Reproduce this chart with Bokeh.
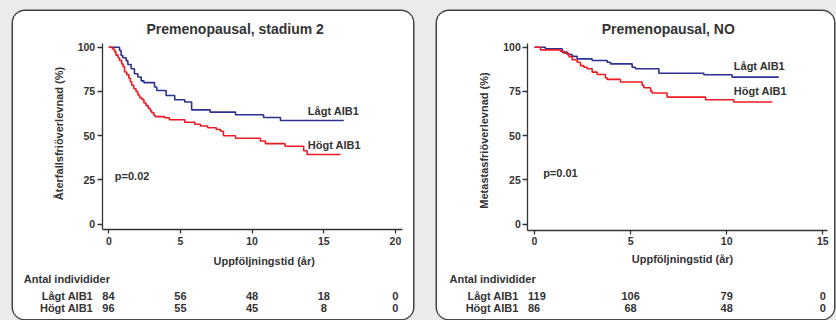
import math
from bokeh.plotting import figure
from bokeh.models import (FixedTicker, Range1d, GlobalInlineStyleSheet, Spacer,
                          ColumnDataSource)
from bokeh.layouts import row, column
from bokeh.core.properties import value
from bokeh.embed import file_html
from bokeh.resources import INLINE

# ---------------- data ----------------
title_left = "Premenopausal, stadium 2"
ylabel_left = "Återfallsfriöverlevnad (%)"
title_right = "Premenopausal, NO"
ylabel_right = "Metastasfriöverlevnad (%)"
xlabel = "Uppföljningstid (år)"
group_names = ["Lågt AIB1", "Högt AIB1"]
risk_title = "Antal individider"
p_left = "p=0.02"
p_right = "p=0.01"

y_ticks = [0, 25, 50, 75, 100]
x_ticks_left = [0, 5, 10, 15, 20]
x_ticks_right = [0, 5, 10, 15]

# Left panel: recurrence-free survival, Lågt AIB1
left_low_t = [0, 0.75, 0.86, 0.98, 1.21, 1.33, 1.56, 1.79, 2.03, 2.26, 2.45,
              3.19, 3.35, 4.0, 4.6, 5.3, 5.78, 7.07, 8.84, 10.8, 11.98, 16.4]
left_low_s = [100, 98.1, 95.3, 94.0, 92.4, 90.2, 87.8, 85.0, 83.2, 81.0, 80.0,
              77.5, 75.5, 72.7, 70.3, 69.0, 64.6, 63.3, 61.8, 60.3, 58.6, 58.6]
# Left panel: Högt AIB1
left_high_t = [0, 0.25, 0.4, 0.5, 0.65, 0.75, 0.9, 1.0, 1.1, 1.25,
               1.4, 1.5, 1.6, 1.75, 1.9, 2.03, 2.15, 2.3, 2.45, 2.6,
               2.75, 2.9, 3.0, 3.15, 3.25, 3.89, 4.23, 5.3, 6.0, 6.4,
               6.9, 7.5, 7.8, 8.0, 8.84, 10.58, 10.93, 12.3, 13.6, 13.84,
               16.17]
left_high_s = [100, 99.0, 97.5, 95.5, 94.0, 92.5, 90.5, 89.0, 86.0, 84.5,
               82.5, 80.5, 78.5, 76.5, 75.0, 73.0, 71.5, 70.5, 68.5, 67.0,
               65.5, 64.0, 63.0, 61.4, 60.8, 60.1, 59.0, 57.6, 56.5, 55.5,
               54.5, 53.5, 52.5, 50.0, 48.6, 47.0, 45.5, 44.0, 41.5, 39.4,
               39.4]

# Right panel: metastasis-free survival, Lågt AIB1
right_low_t = [0, 0.57, 1.44, 1.7, 1.96, 2.22, 3.0, 3.78, 3.95, 5.08, 5.25,
               6.47, 8.81, 10.28, 12.71]
right_low_s = [100, 99.1, 97.2, 95.9, 94.8, 93.4, 92.5, 91.5, 90.6, 88.7, 87.8,
               85.3, 84.4, 83.1, 83.1]
# Right panel: Högt AIB1
right_high_t = [0, 0.31, 1.35, 1.53, 1.79, 1.96, 2.22, 2.39, 2.57, 2.74, 3.0,
                3.26, 3.69, 3.78, 4.47, 5.6, 5.69, 6.04, 6.12, 6.9, 8.9,
                10.37, 12.37]
right_high_s = [100, 98.5, 97.7, 96.6, 94.7, 92.9, 91.5, 89.6, 88.7, 87.8, 85.9,
                84.6, 82.7, 81.8, 80.3, 78.5, 77.1, 75.2, 74.1, 71.8, 70.3,
                69.0, 69.0]

# Numbers at risk
risk_left_times = [0, 5, 10, 15, 20]
risk_left_low = [84, 56, 48, 18, 0]
risk_left_high = [96, 55, 45, 8, 0]
risk_right_times = [0, 5, 10, 15]
risk_right_low = [119, 106, 79, 0]
risk_right_high = [86, 68, 48, 0]

# ---------------- style / layout (panel pixels) ----------------
FONT = "Liberation Sans"
TXT = "#333333"
BLUE = "#2e3192"
RED = "#ed1c24"
PANEL_H = 308
Y0_PX = 212.7          # pixel row of survival 0 %
Y_SCALE = 1.77         # pixels per percent
Y_TOP_PX = 32          # top end of the y axis line
ROW_TITLE, ROW_LOW, ROW_HIGH = 267, 284, 296.7


def tkw(size="11px"):
    return dict(text_font=value(FONT), text_font_size=size, text_font_style="bold",
                text_color=TXT, text_baseline="middle")


def make_panel(cfg):
    W, H = cfg["width"], PANEL_H
    X0, S = cfg["x0_px"], cfg["x_scale"]

    def dx(lx):
        return (lx - X0) / S

    def dy(ly):
        return (Y0_PX - ly) / Y_SCALE

    p = figure(width=W, height=H,
               min_border_left=0, min_border_right=0, min_border_top=0, min_border_bottom=0,
               x_range=Range1d(dx(0), dx(W)), y_range=Range1d(dy(H), dy(0)),
               output_backend="svg", toolbar_location=None)
    p.outline_line_color = None
    p.grid.visible = False
    p.background_fill_color = "white"
    p.border_fill_color = "white"
    p.styles = {"border-radius": "12px", "box-shadow": "0 0 0 1.5px #444444",
                "overflow": "hidden"}

    ax_x = dx(cfg["yaxis_px"])      # data x where the y axis sits
    ax_y = dy(cfg["xaxis_px"])      # data y where the x axis sits
    for ax in (p.xaxis[0], p.yaxis[0]):
        ax.axis_line_color = TXT
        ax.axis_line_width = 1.3
        ax.major_tick_line_color = TXT
        ax.major_tick_line_width = 1.3
        ax.major_tick_in = 0
        ax.minor_tick_in = 0
        ax.minor_tick_out = 0
        ax.major_label_text_font = FONT
        ax.major_label_text_font_style = "bold"
        ax.major_label_text_font_size = "10.5px"
        ax.major_label_text_color = TXT
    p.xaxis.ticker = FixedTicker(ticks=cfg["xticks"])
    p.yaxis.ticker = FixedTicker(ticks=y_ticks)
    p.xaxis.fixed_location = ax_y
    p.yaxis.fixed_location = ax_x
    p.xaxis.bounds = (ax_x, dx(cfg["xend_px"]))
    p.yaxis.bounds = (ax_y, dy(Y_TOP_PX))
    p.xaxis.major_tick_out = 4
    p.xaxis.major_label_standoff = 3
    p.yaxis.major_tick_out = 5
    p.yaxis.major_label_standoff = 2

    # survival curves
    p.step(cfg["low"][0], cfg["low"][1], mode="after", line_color=BLUE, line_width=1.6)
    p.step(cfg["high"][0], cfg["high"][1], mode="after", line_color=RED, line_width=1.6)

    # titles and labels
    tx, ty = cfg["title_px"]
    p.text(x=[dx(tx)], y=[dy(ty)], text=[cfg["title"]], text_align="center", **tkw("14px"))
    lx, ly = cfg["ylabel_px"]
    p.text(x=[dx(lx)], y=[dy(ly)], text=[cfg["ylabel"]], text_align="center",
           angle=math.pi / 2, **tkw())
    xx, xy = cfg["xlabel_px"]
    p.text(x=[dx(xx)], y=[dy(xy)], text=[xlabel], text_align="center", **tkw())
    px_, py_ = cfg["p_pos"]
    p.text(x=[px_], y=[py_], text=[cfg["pval"]], text_align="left", **tkw())
    cx, (cy1, cy2) = cfg["curve_lab"]
    p.text(x=[cx, cx], y=[cy1, cy2], text=group_names, text_align="left", **tkw())

    # numbers at risk
    rt = cfg["risk_t"]
    p.text(x=[rt[0]], y=[dy(ROW_TITLE)], text=[risk_title], text_align="left",
           x_offset=-85, **tkw())
    for vals, ry, name in ((cfg["risk_low"], ROW_LOW, group_names[0]),
                           (cfg["risk_high"], ROW_HIGH, group_names[1])):
        p.text(x=[rt[0]], y=[dy(ry)], text=[name], text_align="right", x_offset=-15.7, **tkw())
        p.text(x=[rt[0]], y=[dy(ry)], text=[str(vals[0])], text_align="left", x_offset=-6.5, **tkw())
        src = ColumnDataSource(dict(x=rt[1:], y=[dy(ry)] * (len(rt) - 1),
                                    s=[str(v) for v in vals[1:]]))
        p.text(x="x", y="y", text="s", source=src, text_align="center", **tkw())
    return p


left_cfg = dict(width=400, x0_px=95.3, x_scale=14.33, yaxis_px=88.7, xend_px=388.7,
                xaxis_px=218.3, xticks=x_ticks_left, ylabel=ylabel_left, title=title_left,
                title_px=(221.7, 17.5), ylabel_px=(45, 122), xlabel_px=(250.7, 249),
                low=(left_low_t, left_low_s), high=(left_high_t, left_high_s),
                p_pos=(0.42, 27.5), pval=p_left, curve_lab=(13.89, (63.7, 44.5)),
                risk_t=risk_left_times, risk_low=risk_left_low, risk_high=risk_left_high)
right_cfg = dict(width=397, x0_px=97.0, x_scale=19.22, yaxis_px=90.3, xend_px=389.7,
                 xaxis_px=218.8, xticks=x_ticks_right, ylabel=ylabel_right, title=title_right,
                 title_px=(230.8, 17.3), ylabel_px=(46.3, 129), xlabel_px=(245, 247.5),
                 low=(right_low_t, right_low_s), high=(right_high_t, right_high_s),
                 p_pos=(0.45, 29.0), pval=p_right, curve_lab=(10.37, (89.1, 75.1)),
                 risk_t=risk_right_times, risk_low=risk_right_low, risk_high=risk_right_high)

p1 = make_panel(left_cfg)
p2 = make_panel(right_cfg)

layout = column(Spacer(height=11),
                row(Spacer(width=13), p1, Spacer(width=24), p2, spacing=0),
                spacing=0)
layout.stylesheets = [GlobalInlineStyleSheet(
    css="html, body { margin: 0; padding: 0; background: #ebebeb; }")]

open("out.html", "w").write(file_html(layout, INLINE))
